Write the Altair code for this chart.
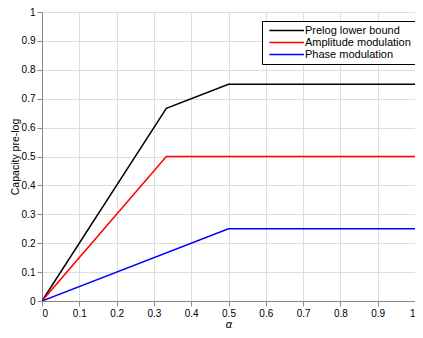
import altair as alt
import pandas as pd

series = ["Prelog lower bound", "Amplitude modulation", "Phase modulation"]
colors = ["#000000", "#ff0000", "#0000ff"]

prelog_x = [0, 1/3, 0.5, 1.0]
prelog_y = [0, 2/3, 0.75, 0.75]
amp_x = [0, 1/3, 1.0]
amp_y = [0, 0.5, 0.5]
phase_x = [0, 0.5, 1.0]
phase_y = [0, 0.25, 0.25]

rows = []
for name, xs, ys in [(series[0], prelog_x, prelog_y), (series[1], amp_x, amp_y), (series[2], phase_x, phase_y)]:
    for i, (a, b) in enumerate(zip(xs, ys)):
        rows.append({"series": name, "alpha": a, "val": b, "order": i})
df = pd.DataFrame(rows)

ticks = [round(i * 0.1, 1) for i in range(11)]
lab = "datum.value == 0 ? '0' : datum.value == 1 ? '1' : format(datum.value, '.1f')"

chart = alt.Chart(df).mark_line(strokeWidth=1.5, clip=True).encode(
    x=alt.X("alpha:Q", scale=alt.Scale(domain=[0, 1], nice=False),
            axis=alt.Axis(values=ticks, title="α", titleFontStyle="italic",
                          titleFontWeight="normal", titleFontSize=11, titlePadding=0,
                          labelExpr=lab)),
    y=alt.Y("val:Q", scale=alt.Scale(domain=[0, 1], nice=False),
            axis=alt.Axis(values=ticks, title="Capacity pre-log", titleFontWeight="normal",
                          titleFontSize=10.5, titlePadding=1, labelExpr=lab)),
    color=alt.Color("series:N", scale=alt.Scale(domain=series, range=colors),
                    legend=alt.Legend(title=None, orient="none", legendX=220, legendY=9,
                                      symbolType="M-0.5,0H7.5", symbolSize=75, symbolStrokeWidth=1.5,
                                      fillColor="white", strokeColor="#000000",
                                      padding=4, labelFontSize=11, labelFont="Liberation Sans",
                                      labelColor="#000000", rowPadding=0, labelOffset=28)),
    order="order:Q",
).properties(
    width=373, height=289,
    autosize=alt.AutoSizeParams(type="none"),
    padding={"left": 34, "top": 4, "right": 0, "bottom": 29},
).configure_view(
    stroke="#262626", strokeWidth=1
).configure_axis(
    grid=True, gridColor="#e6e6e6", gridWidth=1,
    domainColor="#262626", domainWidth=1,
    tickSize=0,
    labelFont="Liberation Sans", labelFontSize=10, labelColor="#262626", labelPadding=3,
    titleFont="Liberation Sans", titleColor="#262626",
).configure(background="white")

chart.save("out.html", embed_options={"renderer": "svg", "actions": False})
